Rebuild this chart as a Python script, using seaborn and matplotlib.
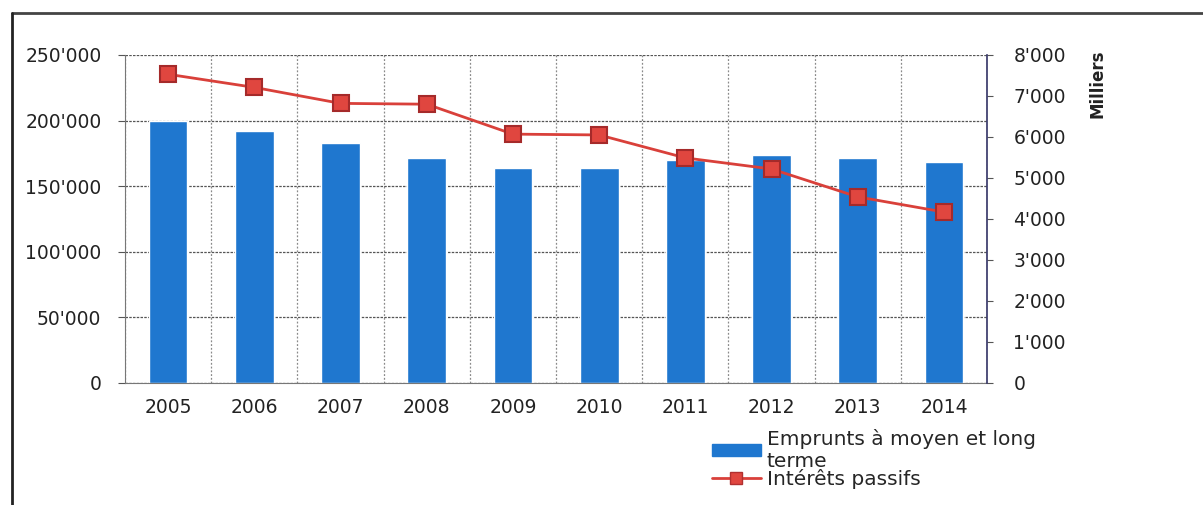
import matplotlib
matplotlib.use("Agg")
import matplotlib.pyplot as plt
import matplotlib.ticker as mticker
from matplotlib.lines import Line2D
from matplotlib.patches import Patch
import seaborn as sns

years = ["2005", "2006", "2007", "2008", "2009", "2010", "2011", "2012", "2013", "2014"]
emprunts = [199700, 192100, 182900, 171500, 164100, 163600, 170000, 173800, 171500, 168400]
interets = [7530, 7210, 6820, 6800, 6070, 6050, 5490, 5220, 4540, 4170]

left_ticks = [0, 50000, 100000, 150000, 200000, 250000]
right_ticks = [0, 1000, 2000, 3000, 4000, 5000, 6000, 7000, 8000]

sns.set_style("white")
plt.rcParams['font.family'] = ['DejaVu Sans']

fig = plt.figure(figsize=(12.03, 5.05), dpi=100)
ax = fig.add_axes([0.1039, 0.2416, 0.7166, 0.6495])

bar_color = "#1f77cf"
line_color = "#d9403a"
fmt = mticker.FuncFormatter(lambda v, p: f"{int(v):,}".replace(",", "'"))

sns.barplot(x=years, y=emprunts, ax=ax, color=bar_color, width=0.45, saturation=1)
ax.set_ylim(0, 250000)
ax.set_xlim(-0.5, 9.5)
ax.set_yticks(left_ticks)
ax.yaxis.set_major_formatter(fmt)
ax.set_xticks(range(len(years)))
ax.set_xticklabels(years)
ax.set_xticks([i + 0.5 for i in range(-1, len(years))], minor=True)
ax.tick_params(axis='x', which='major', length=0, pad=11, labelsize=13.5, colors="#222222")
ax.tick_params(axis='x', which='minor', length=5, direction='out', color="#555555")
ax.tick_params(axis='y', length=5, direction='out', pad=12, labelsize=13.5, colors="#222222")
ax.tick_params(axis='y', color="#555555")
ax.grid(axis='y', which='major', linestyle=(0, (2, 1)), color="#555555", linewidth=0.9)
ax.grid(axis='x', which='minor', linestyle=(0, (1.5, 1.5)), color="#8a8a8a", linewidth=0.9)
ax.set_axisbelow(True)
ax.set_xlabel("")
ax.set_ylabel("")
for s in ["top", "right"]:
    ax.spines[s].set_visible(False)
ax.spines["left"].set_color("#777777")
ax.spines["bottom"].set_color("#777777")

ax2 = ax.twinx()
sns.pointplot(x=years, y=interets, ax=ax2, color=line_color, marker='s',
              markersize=11, markeredgecolor="#a52a2a", markerfacecolor="#e0463f",
              linewidth=2, errorbar=None)
ax2.set_xlim(-0.5, 9.5)
ax2.set_ylim(0, 8000)
ax2.set_yticks(right_ticks)
ax2.yaxis.set_major_formatter(fmt)
ax2.tick_params(axis='y', length=4, direction='out', pad=15, labelsize=13.5, colors="#222222")
ax2.tick_params(axis='y', color="#555555")
ax2.set_ylabel("")
ax2.set_xlabel("")
ax2.grid(False)
for s in ["top", "left", "bottom"]:
    ax2.spines[s].set_visible(False)
ax2.spines["right"].set_color("#333366")
ax2.spines["right"].set_linewidth(1.2)

fig.text(0.912, 0.835, "Milliers", rotation=90, fontsize=12, fontweight='bold',
         ha='center', va='center', color="#222222",
         family=['Liberation Sans Narrow', 'DejaVu Sans'])

handles = [Patch(facecolor=bar_color, edgecolor=bar_color),
           Line2D([], [], color=line_color, marker='s', markersize=9,
                  markerfacecolor="#e0463f", markeredgecolor="#b03030", linewidth=2)]
labels = ["Emprunts à moyen et long\nterme", "Intérêts passifs"]
fig.legend(handles, labels, loc='upper left', bbox_to_anchor=(0.582, 0.175),
           frameon=False, fontsize=14.5, handlelength=2.4, handleheight=0.5,
           handletextpad=0.3, labelspacing=-0.1, borderpad=0.1)

# outer frame (top and left edges of the scanned box)
fig.add_artist(Line2D([0.01, 1.0], [0.974, 0.974], color="#444444", linewidth=2,
                      transform=fig.transFigure))
fig.add_artist(Line2D([0.01, 0.01], [0.0, 0.974], color="#222222", linewidth=2,
                      transform=fig.transFigure))

fig.savefig("out.png", dpi=100)
